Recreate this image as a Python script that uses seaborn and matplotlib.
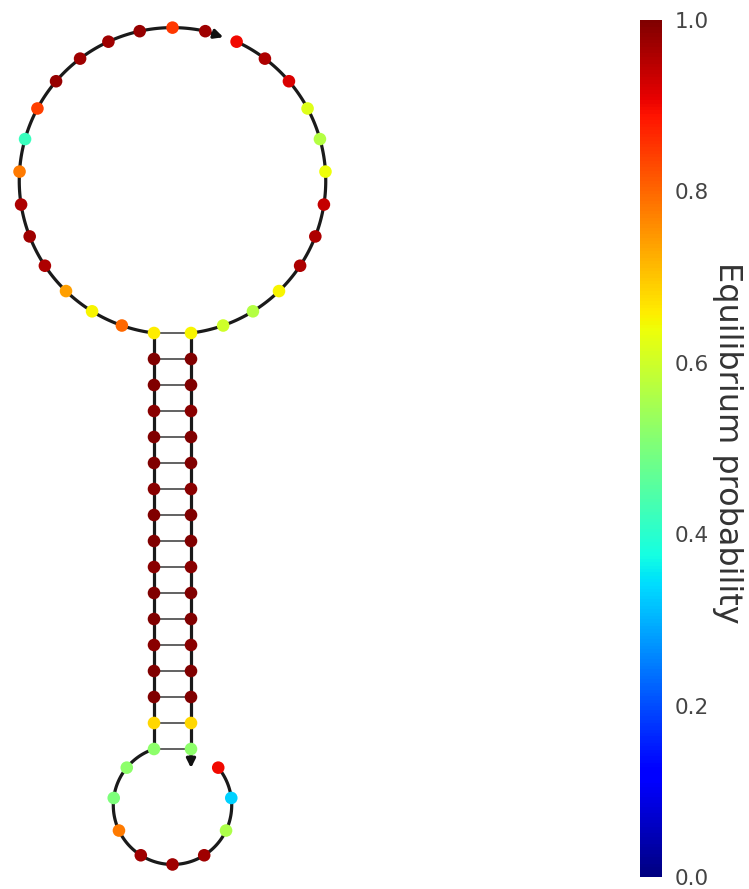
import numpy as np
import pandas as pd
import matplotlib
matplotlib.use("Agg")
import matplotlib.pyplot as plt
import seaborn as sns
from matplotlib.cm import ScalarMappable
from matplotlib.colors import Normalize

# ---------------- data ----------------
# two strands, dot-bracket structure (strand1 + strand2)
strand1_struct = "........." + "(((((((((((((((((" + "..............."
strand2_struct = "............" + ")))))))))))))))))"

# equilibrium probabilities per nucleotide (5' -> 3')
strand1_probs = [
    # exterior (bottom) loop
    0.90, 0.33, 0.56, 0.97, 0.97, 0.97, 0.78, 0.50, 0.52,
    # stem, left column, bottom -> top
    0.52, 0.68, 1.00, 1.00, 0.99, 1.00, 1.00, 0.99, 1.00, 1.00, 0.99, 1.00,
    1.00, 0.99, 1.00, 1.00, 0.66,
    # top loop
    0.80, 0.65, 0.74, 0.96, 0.97, 0.96, 0.78, 0.42, 0.84, 0.98, 0.97, 0.97,
    0.98, 0.85, 0.97,
]
strand2_probs = [
    # top loop
    0.90, 0.96, 0.92, 0.62, 0.57, 0.64, 0.94, 0.96, 0.96, 0.65, 0.57, 0.60,
    # stem, right column, top -> bottom
    0.65, 1.00, 1.00, 0.99, 1.00, 1.00, 0.99, 1.00, 1.00, 0.99, 1.00, 1.00,
    0.99, 1.00, 1.00, 0.68, 0.52,
]
cbar_ticks = [0.0, 0.2, 0.4, 0.6, 0.8, 1.0]
cbar_label = "Equilibrium probability"

# ---------------- layout parameters (pixels, y up) ----------------
W_PX, H_PX = 749, 889
STEM_X = 154.0        # left column x
STEM_TOP_Y = -333.0   # innermost pair y
PAIR_W = 37.0         # pair distance
STEP = 26.0           # stem backbone step
LOOP_B = 33.0         # loop backbone chord

JET = matplotlib.colormaps["jet"]

struct = strand1_struct + strand2_struct
probs = np.array(strand1_probs + strand2_probs, dtype=float)
n1 = len(strand1_struct)
N = len(struct)
strand_of = np.array([0] * n1 + [1] * (N - n1))

# pairs
stack, pairs = [], {}
for i, c in enumerate(struct):
    if c == "(":
        stack.append(i)
    elif c == ")":
        j = stack.pop()
        pairs[i] = j
        pairs[j] = i
left_stem = sorted(i for i in pairs if i < pairs[i])  # outermost first
nstem = len(left_stem)

xy = np.zeros((N, 2))
for k, i in enumerate(left_stem):
    y = STEM_TOP_Y - (nstem - 1 - k) * STEP
    xy[i] = (STEM_X, y)
    xy[pairs[i]] = (STEM_X + PAIR_W, y)


def solve_radius(n):
    lo, hi = PAIR_W / 2 + 1e-6, 1e4
    for _ in range(200):
        mid = 0.5 * (lo + hi)
        tot = (n - 1) * 2 * np.arcsin(LOOP_B / (2 * mid)) + 2 * np.arcsin(PAIR_W / (2 * mid))
        if tot > 2 * np.pi:
            lo = mid
        else:
            hi = mid
    return 0.5 * (lo + hi)


loops = []
# top loop: innermost left, strand1 tail, strand2 head, innermost right
inner_l = left_stem[-1]
inner_r = pairs[inner_l]
top_vertices = list(range(inner_l, n1)) + list(range(n1, inner_r + 1))
# bottom loop: outermost right, strand1 head, outermost left
outer_l = left_stem[0]
outer_r = pairs[outer_l]
bot_vertices = [outer_r] + list(range(0, outer_l + 1))

for verts, side in ((top_vertices, +1), (bot_vertices, -1)):
    n = len(verts)
    R = solve_radius(n)
    half = np.arcsin(PAIR_W / (2 * R))
    theta = (2 * np.pi - 2 * half) / (n - 1)
    p0 = xy[verts[0]]
    cx = STEM_X + PAIR_W / 2
    cy = p0[1] + side * np.sqrt(R ** 2 - (PAIR_W / 2) ** 2)
    start = (1.5 * np.pi - half) if side > 0 else (0.5 * np.pi - half)
    angs = {}
    for k, v in enumerate(verts):
        a = start - k * theta
        angs[v] = a
        xy[v] = (cx + R * np.cos(a), cy + R * np.sin(a))
    loops.append(dict(cx=cx, cy=cy, R=R, angs=angs, theta=theta))

# ---------------- figure ----------------
sns.set_style("white")
fig = plt.figure(figsize=(W_PX / 100, H_PX / 100), dpi=100)
ax = fig.add_axes([0, 0, 1, 1])

BB_LW = 2.3
# backbone
for i in range(N - 1):
    if strand_of[i] != strand_of[i + 1]:
        continue
    drawn = False
    for L in loops:
        if i in L["angs"] and i + 1 in L["angs"]:
            a1, a2 = L["angs"][i], L["angs"][i + 1]
            t = np.linspace(a1, a2, 16)
            ax.plot(L["cx"] + L["R"] * np.cos(t), L["cy"] + L["R"] * np.sin(t),
                    color="#1a1a1a", lw=BB_LW, solid_capstyle="round", zorder=1)
            drawn = True
            break
    if not drawn:
        ax.plot(xy[[i, i + 1], 0], xy[[i, i + 1], 1], color="#1a1a1a",
                lw=BB_LW, solid_capstyle="round", zorder=1)

# pair bonds
for i in left_stem:
    j = pairs[i]
    ax.plot(xy[[i, j], 0], xy[[i, j], 1], color="#555555", lw=1.3, zorder=0.5)

# 3' arrows
ARROW_LEN = 19.0
for s_end in (n1 - 1, N - 1):
    p = xy[s_end]
    in_loop = None
    for L in loops:
        if s_end in L["angs"] and (s_end - 1) in L["angs"]:
            in_loop = L
    if in_loop is not None:
        a = in_loop["angs"][s_end] - in_loop["theta"]
        q = np.array([in_loop["cx"] + in_loop["R"] * np.cos(a),
                      in_loop["cy"] + in_loop["R"] * np.sin(a)])
        d = q - p
    else:
        d = p - xy[s_end - 1]
    d = d / np.linalg.norm(d)
    tip = p + ARROW_LEN * d
    ax.annotate("", xy=tip, xytext=p,
                arrowprops=dict(arrowstyle="-|>", color="#111111", lw=BB_LW,
                                mutation_scale=13, shrinkA=0, shrinkB=0),
                zorder=1)

df = pd.DataFrame({"x": xy[:, 0], "y": xy[:, 1], "p": probs})
sns.scatterplot(data=df, x="x", y="y", hue="p", palette=JET, hue_norm=(0, 1),
                s=82, linewidth=0, legend=False, ax=ax, zorder=3)
ax.set_xlim(0, W_PX)
ax.set_ylim(-H_PX, 0)
ax.axis("off")

# colorbar
bar_left, bar_w = 640, 22
bar_top, bar_bot = 20, 877
cax = fig.add_axes([bar_left / W_PX, (H_PX - bar_bot) / H_PX,
                    bar_w / W_PX, (bar_bot - bar_top) / H_PX])
sm = ScalarMappable(norm=Normalize(0, 1), cmap=JET)
cb = fig.colorbar(sm, cax=cax)
cb.outline.set_visible(False)
cb.set_ticks(cbar_ticks)
cb.set_ticklabels([f"{t:.1f}" for t in cbar_ticks])
cax.tick_params(length=0, pad=9, labelsize=15.5, labelcolor="#444444")
fig.text(727 / W_PX, (H_PX - 443) / H_PX, cbar_label, rotation=270,
         ha="center", va="center", fontsize=23, color="#333333")

fig.savefig("out.png", dpi=100)
